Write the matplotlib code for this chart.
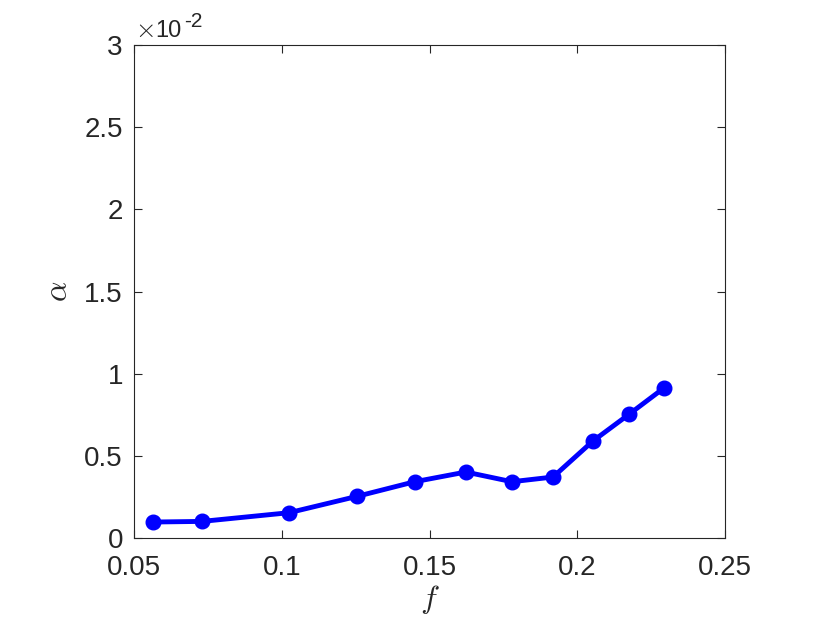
import matplotlib
matplotlib.use("Agg")
import matplotlib.pyplot as plt

f_vals = [0.0564, 0.0730, 0.1025, 0.1255, 0.1450, 0.1623, 0.1779, 0.1918, 0.2053, 0.2175, 0.2295]
alpha_vals = [0.0972, 0.1010, 0.1540, 0.2535, 0.3425, 0.4015, 0.3425, 0.3710, 0.5900, 0.7525, 0.9150]  # x 1e-2
x_ticks = [0.05, 0.1, 0.15, 0.2, 0.25]
x_tick_labels = ["0.05", "0.1", "0.15", "0.2", "0.25"]
y_ticks = [0, 0.5, 1, 1.5, 2, 2.5, 3]
y_tick_labels = ["0", "0.5", "1", "1.5", "2", "2.5", "3"]

plt.rcParams['font.family'] = ['Liberation Sans', 'DejaVu Sans']
plt.rcParams['mathtext.fontset'] = 'cm'
dark = '#262626'

fig = plt.figure(figsize=(8.30, 6.23), dpi=100)
ax = fig.add_axes([134/830, 1 - 538/623, (725-134)/830, (538-45)/623])
ax.plot(f_vals, alpha_vals, '-o', color=(0, 0, 1), lw=3.5, ms=10.5)
ax.set_xlim(0.05, 0.25)
ax.set_ylim(0, 3)
ax.set_xticks(x_ticks)
ax.set_xticklabels(x_tick_labels)
ax.set_yticks(y_ticks)
ax.set_yticklabels(y_tick_labels)
ax.tick_params(direction='in', top=True, right=True, length=6, width=0.8,
               labelsize=20, colors=dark)
ax.tick_params(axis='y', pad=8)
ax.tick_params(axis='x', pad=12)
for s in ax.spines.values():
    s.set_color(dark)
    s.set_linewidth(0.8)
ax.set_xlabel(r'$f$', fontsize=23, color=dark, labelpad=2)
ax.set_ylabel(r'$\alpha$', fontsize=23, color=dark, labelpad=7)
ax.annotate(r'$\times$', xy=(0, 1), xycoords='axes fraction', xytext=(1, 6),
            textcoords='offset points', fontsize=19, color=dark, ha='left', va='baseline')
ax.annotate('10', xy=(0, 1), xycoords='axes fraction', xytext=(15, 6),
            textcoords='offset points', fontsize=17, color=dark, ha='left', va='baseline')
ax.annotate('-2', xy=(0, 1), xycoords='axes fraction', xytext=(36, 13),
            textcoords='offset points', fontsize=15, color=dark, ha='left', va='baseline')
fig.savefig('out.png', dpi=100)
